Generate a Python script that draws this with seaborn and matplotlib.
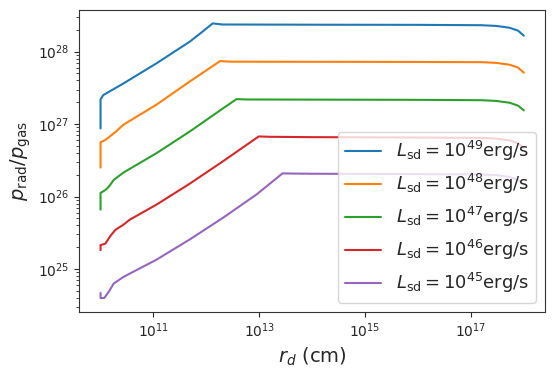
import numpy as np
import seaborn as sns
import matplotlib
matplotlib.use("Agg")
import matplotlib.pyplot as plt
from matplotlib.ticker import NullLocator

# log10 values (r_d in cm, p_rad/p_gas)
lum_labels = ["49", "48", "47", "46", "45"]

logr_49 = [10.0, 10.0, 10.05, 10.43, 11.06, 11.69, 11.9, 12.12, 12.3, 14, 16, 17.2, 17.48, 17.73, 17.89, 18.0]
logp_49 = [26.94, 27.34, 27.40, 27.56, 27.84, 28.14, 28.26, 28.39, 28.375, 28.372, 28.37, 28.365, 28.355, 28.33, 28.29, 28.22]

logr_48 = [10.0, 10.0, 10.09, 10.28, 10.43, 11.06, 11.69, 12.26, 12.45, 14, 16, 17.2, 17.48, 17.73, 17.89, 18.0]
logp_48 = [26.40, 26.75, 26.78, 26.89, 26.99, 27.27, 27.59, 27.87, 27.862, 27.86, 27.858, 27.855, 27.845, 27.82, 27.78, 27.71]

logr_47 = [10.0, 10.0, 10.09, 10.15, 10.25, 10.43, 11.06, 11.69, 12.32, 12.57, 12.75, 14, 16, 17.2, 17.48, 17.73, 17.89, 18.0]
logp_47 = [25.82, 26.05, 26.09, 26.13, 26.23, 26.33, 26.60, 26.90, 27.22, 27.345, 27.34, 27.338, 27.335, 27.33, 27.32, 27.295, 27.255, 27.19]

logr_46 = [10.0, 10.0, 10.09, 10.19, 10.28, 10.43, 10.55, 11.06, 11.69, 12.32, 12.99, 13.2, 14, 16, 17.2, 17.48, 17.73, 17.89, 18.0]
logp_46 = [25.26, 25.33, 25.35, 25.46, 25.54, 25.61, 25.68, 25.89, 26.18, 26.49, 26.83, 26.825, 26.82, 26.815, 26.81, 26.80, 26.775, 26.735, 26.67]

logr_45 = [10.0, 10.0, 10.07, 10.15, 10.25, 10.43, 11.06, 11.69, 12.32, 12.95, 13.44, 13.6, 14, 16, 17.2, 17.48, 17.73, 17.89, 18.0]
logp_45 = [24.67, 24.60, 24.60, 24.68, 24.80, 24.89, 25.13, 25.41, 25.71, 26.03, 26.32, 26.318, 26.315, 26.31, 26.305, 26.295, 26.27, 26.23, 26.16]

xtick_vals = [1e11, 1e13, 1e15, 1e17]

curves = [(logr_49, logp_49), (logr_48, logp_48), (logr_47, logp_47),
          (logr_46, logp_46), (logr_45, logp_45)]

sns.set_style("ticks")
plt.rcParams['axes.edgecolor'] = '.2'

fig = plt.figure(figsize=(5.55, 3.72), dpi=100)
ax = fig.add_axes([0.143, 0.162, 0.839, 0.812])

colors = sns.color_palette("tab10")
for i, (lr, lp) in enumerate(curves):
    sns.lineplot(x=10 ** np.array(lr), y=10 ** np.array(lp), ax=ax,
                 estimator=None, sort=False, color=colors[i], linewidth=1.5,
                 label=r"$L_{\rm sd}=10^{%s}$erg/s" % lum_labels[i])

ax.set_xscale("log")
ax.set_yscale("log")
ax.set_xticks(xtick_vals)
ax.xaxis.set_minor_locator(NullLocator())
ax.set_xlabel(r"$r_d$ (cm)", fontsize=14)
ax.set_ylabel(r"$p_{\rm rad}/p_{\rm gas}$", fontsize=14)
ax.tick_params(labelsize=10)
ax.legend(loc="lower right", fontsize=13)

fig.savefig("out.png", dpi=100)
